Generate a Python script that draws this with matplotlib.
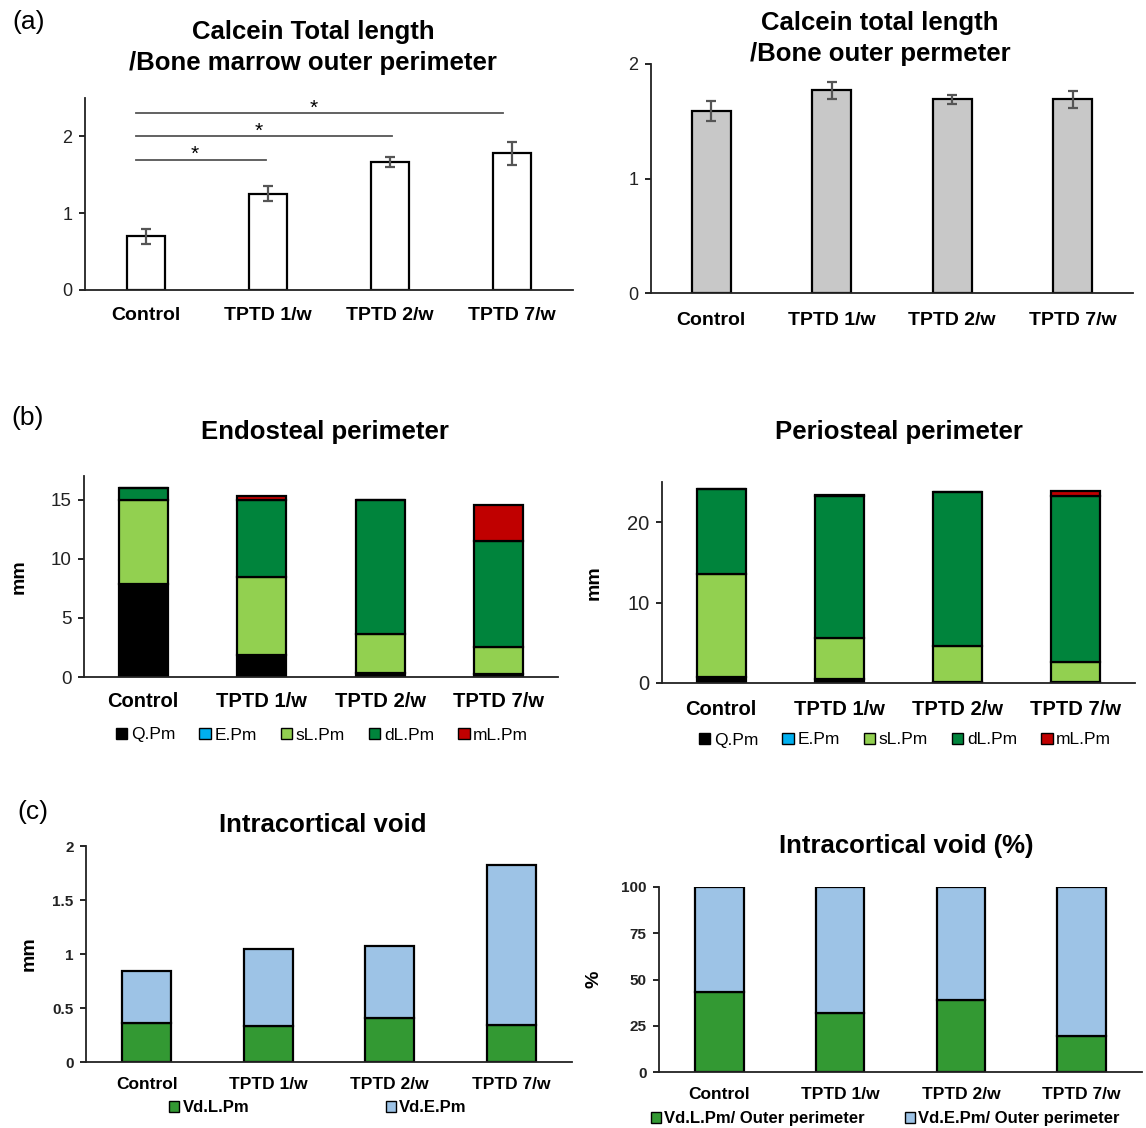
import matplotlib
matplotlib.use('Agg')
import matplotlib.pyplot as plt
from matplotlib.patches import Patch

plt.rcParams['font.family'] = ['Liberation Sans', 'DejaVu Sans']

# ---------------- data ----------------
categories = ["Control", "TPTD 1/w", "TPTD 2/w", "TPTD 7/w"]

# (a) left: Calcein total length / bone marrow outer perimeter
marrow_mean = [0.70, 1.255, 1.665, 1.78]
marrow_err = [0.10, 0.10, 0.065, 0.15]
sig_y = [1.69, 2.00, 2.30]
sig_end = [0.98, 2.02, 2.93]

# (a) right: Calcein total length / bone outer perimeter
outer_mean = [1.59, 1.77, 1.69, 1.69]
outer_err = [0.09, 0.075, 0.04, 0.07]

# (b) stacked components (mm)
series_names = ["Q.Pm", "E.Pm", "sL.Pm", "dL.Pm", "mL.Pm"]
endo_Q = [7.9, 1.9, 0.35, 0.25]
endo_E = [0.0, 0.0, 0.0, 0.0]
endo_sL = [7.1, 6.55, 3.3, 2.25]
endo_dL = [0.95, 6.55, 11.35, 9.0]
endo_mL = [0.0, 0.3, 0.0, 3.05]

peri_Q = [0.75, 0.55, 0.1, 0.1]
peri_E = [0.0, 0.0, 0.0, 0.0]
peri_sL = [12.75, 5.1, 4.5, 2.5]
peri_dL = [10.6, 17.55, 19.1, 20.6]
peri_mL = [0.0, 0.2, 0.0, 0.7]

# (c) intracortical void
void_L = [0.36, 0.33, 0.41, 0.345]
void_E = [0.485, 0.72, 0.66, 1.475]
void_L_pct = [43.1, 31.8, 39.0, 19.6]
void_E_pct = [100 - v for v in void_L_pct]

# ---------------- style ----------------
c_Q, c_E, c_sL, c_dL, c_mL = "#000000", "#00b0f0", "#92d050", "#00843c", "#c00000"
c_vL, c_vE = "#339933", "#9dc3e6"

W, H = 1146, 1128
fig = plt.figure(figsize=(W / 100, H / 100), dpi=100)


def add_ax(l, r, b, t):
    return fig.add_axes([l / W, 1 - b / H, (r - l) / W, (b - t) / H])


def style(ax, ylim, yticks, xfs, yfs, yweight='normal', xpad=9, ytl=None):
    for s in ['top', 'right']:
        ax.spines[s].set_visible(False)
    for s in ['left', 'bottom']:
        ax.spines[s].set_linewidth(1.3)
        ax.spines[s].set_color('#222222')
    ax.set_xlim(-0.5, 3.5)
    ax.set_ylim(*ylim)
    ax.set_yticks(yticks)
    if ytl is not None:
        ax.set_yticklabels(ytl)
    ax.set_xticks(range(len(categories)))
    ax.set_xticklabels(categories, fontweight='bold', fontsize=xfs)
    ax.tick_params(axis='x', length=0, pad=xpad)
    ax.tick_params(axis='y', length=4, width=1.2, direction='out', labelsize=yfs, pad=5)
    for lab in ax.get_yticklabels():
        lab.set_fontweight(yweight)
        lab.set_color('#222222')


x = list(range(len(categories)))
ekw = dict(fmt='none', ecolor='#555555', elinewidth=1.6, capsize=3.5, capthick=1.6)

# (a) left
ax1 = add_ax(85, 573, 290, 98)
ax1.bar(x, marrow_mean, width=0.31, color='white', edgecolor='black', linewidth=1.6)
ax1.errorbar(x, marrow_mean, yerr=marrow_err, **ekw)
for yv, xe in zip(sig_y, sig_end):
    ax1.plot([-0.08, xe], [yv, yv], color='#555555', lw=1.3)
    ax1.text((-0.08 + xe) / 2 - 0.05, yv, '*', ha='center', va='baseline', fontsize=15)
style(ax1, (0, 2.5), [0, 1, 2], 14, 13, xpad=12)

# (a) right
ax2 = add_ax(651, 1133, 293, 64)
ax2.bar(x, outer_mean, width=0.32, color='#c8c8c8', edgecolor='black', linewidth=1.6)
ax2.errorbar(x, outer_mean, yerr=outer_err, **ekw)
style(ax2, (0, 2), [0, 1, 2], 14, 13, xpad=14)


# (b) stacked
def stacked(ax, layers, colors, width):
    bottom = [0.0] * len(categories)
    for vals, col in zip(layers, colors):
        ax.bar(x, vals, width=width, bottom=bottom, color=col, edgecolor='black', linewidth=1.6)
        bottom = [b + v for b, v in zip(bottom, vals)]


colors_b = [c_Q, c_E, c_sL, c_dL, c_mL]
ax3 = add_ax(84, 558, 677, 476)
stacked(ax3, [endo_Q, endo_E, endo_sL, endo_dL, endo_mL], colors_b, 0.41)
style(ax3, (0, 17), [0, 5, 10, 15], 14.5, 13.5, xpad=11)
ax3.set_ylabel('mm', fontsize=14, fontweight='bold')
ax3.yaxis.set_label_coords(-0.118, 0.5)

ax4 = add_ax(662, 1135, 683, 482)
stacked(ax4, [peri_Q, peri_E, peri_sL, peri_dL, peri_mL], colors_b, 0.415)
style(ax4, (0, 25), [0, 10, 20], 14.5, 14.5, xpad=12)
ax4.set_ylabel('mm', fontsize=14, fontweight='bold')
ax4.yaxis.set_label_coords(-0.125, 0.5)

handles_b = [Patch(facecolor=c, edgecolor='black', linewidth=1) for c in colors_b]
legkw = dict(loc='center', ncol=5, frameon=False, handlelength=0.65, handleheight=0.65,
             handletextpad=0.2, columnspacing=1.4, borderpad=0, borderaxespad=0)
fig.legend(handles_b, series_names, bbox_to_anchor=(322 / W, 1 - 735 / H),
           prop={'size': 12.5}, **legkw)
fig.legend(handles_b, series_names, bbox_to_anchor=(905 / W, 1 - 740 / H),
           prop={'size': 12.5}, **legkw)

# (c) left
ax5 = add_ax(86, 572, 1062, 846)
stacked(ax5, [void_L, void_E], [c_vL, c_vE], 0.40)
style(ax5, (0, 2), [0, 0.5, 1, 1.5, 2], 12.5, 11, yweight='bold', xpad=11,
      ytl=['0', '0.5', '1', '1.5', '2'])
ax5.set_ylabel('mm', fontsize=14, fontweight='bold')
ax5.yaxis.set_label_coords(-0.099, 0.5)

ax6 = add_ax(659, 1142, 1072, 887)
stacked(ax6, [void_L_pct, void_E_pct], [c_vL, c_vE], 0.40)
style(ax6, (0, 100), [0, 25, 50, 75, 100], 12.5, 11, yweight='bold', xpad=11)
ax6.set_ylabel('%', fontsize=14, fontweight='bold')
ax6.yaxis.set_label_coords(-0.116, 0.5)

handles_c = [Patch(facecolor=c, edgecolor='black', linewidth=1) for c in (c_vL, c_vE)]
legc = dict(loc='center', ncol=2, frameon=False, handlelength=0.6, handleheight=0.6,
            handletextpad=0.2, borderpad=0, borderaxespad=0)
fig.legend(handles_c, ['Vd.L.Pm', 'Vd.E.Pm'], bbox_to_anchor=(318 / W, 1 - 1108 / H),
           prop={'size': 12, 'weight': 'bold'}, columnspacing=8.2, **legc)
fig.legend(handles_c, ['Vd.L.Pm/ Outer perimeter', 'Vd.E.Pm/ Outer perimeter'],
           bbox_to_anchor=(885 / W, 1 - 1119 / H),
           prop={'size': 12, 'weight': 'bold'}, columnspacing=2.4, **legc)

# titles
tkw = dict(ha='center', va='center', fontsize=18.5, fontweight='bold', linespacing=1.32)
fig.text(313 / W, 1 - 47.5 / H, 'Calcein Total length\n/Bone marrow outer perimeter', **tkw)
fig.text(880 / W, 1 - 38.5 / H, 'Calcein total length\n/Bone outer permeter',
         **{**tkw, 'linespacing': 1.42})
fig.text(325 / W, 1 - 432 / H, 'Endosteal perimeter', **tkw)
fig.text(899 / W, 1 - 432 / H, 'Periosteal perimeter', **tkw)
fig.text(323 / W, 1 - 825 / H, 'Intracortical void', **tkw)
fig.text(906 / W, 1 - 846 / H, 'Intracortical void (%)', **tkw)

# panel labels
pkw = dict(ha='center', va='center', fontsize=19)
fig.text(29 / W, 1 - 22 / H, '(a)', **pkw)
fig.text(28 / W, 1 - 418 / H, '(b)', **pkw)
fig.text(33 / W, 1 - 812 / H, '(c)', **pkw)

fig.savefig('out.png', dpi=100)
